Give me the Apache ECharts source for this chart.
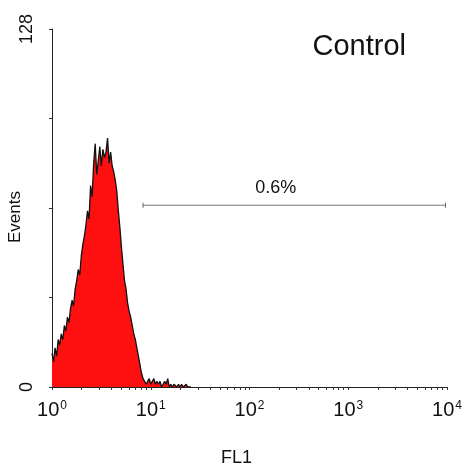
<!DOCTYPE html>
<html>
<head>
<meta charset="utf-8">
<script src="https://cdn.jsdelivr.net/npm/echarts@6/dist/echarts.min.js"></script>
<style>
html,body{margin:0;padding:0;background:#fff;}
#chart{width:469px;height:473px;}
</style>
</head>
<body>
<div id="chart"></div>
<script>
// Channel numbers (64 channels per decade, 256 channels = 4 decades)
var channels = [];
for (var c = 0; c <= 90; c++) channels.push(c);
// Events per channel
var events = [
  12, 9, 14, 11, 17, 15, 19, 17, 22, 20,
  25, 23, 28, 31, 29, 35, 38, 42, 40, 47,
  51, 54, 58, 63, 60, 72, 68, 80, 87, 76,
  81, 86, 79, 85, 82, 84, 89, 80, 84, 79,
  77, 74, 70, 63, 57, 50, 44, 38, 35, 30,
  27, 25, 22, 19, 17, 14, 11, 8, 5, 3,
  2, 1, 2, 3, 1, 2, 3, 1, 2, 1,
  2, 0, 1, 2, 1, 3, 0, 1, 0, 1,
  1, 0, 1, 0, 1, 0, 0, 1, 0, 0,
  0
];
// Marker (gate) region: start/end channel and level
var gateChannels = [59, 255];
var gateLevel = 65;
var gateLabel = '0.6%';
var gateLabelPos = [145, 71];
var xMajorTicks = [0, 64, 128, 192, 256];
var xTickExponents = ['0', '1', '2', '3', '4'];
var yLabels = [0, 128];
var titleText = 'Control';

var histData = channels.map(function (ch, i) { return [ch, events[i]]; });

// minor tick positions of a log axis (2..9 in each decade), in channel units
var minorTicks = [];
for (var d = 0; d < 4; d++) {
  for (var k = 1; k <= 9; k++) minorTicks.push(64 * d + 64 * Math.log10(k));
}
minorTicks.push(256);

var chart = echarts.init(document.getElementById('chart'));
var FONT = 'Liberation Sans';
chart.setOption({
  animation: false,
  backgroundColor: '#ffffff',
  textStyle: { fontFamily: FONT },
  title: {
    text: titleText,
    right: 58, top: 27,
    textStyle: { fontFamily: FONT, fontSize: 29, fontWeight: 'normal', color: '#111' }
  },
  grid: { left: 52, right: 22, top: 29, bottom: 86, containLabel: false, outerBoundsMode: 'none' },
  xAxis: {
    type: 'value', min: 0, max: 256,
    name: 'FL1', nameLocation: 'middle', nameGap: 62, nameMoveOverlap: false,
    nameTextStyle: { fontFamily: FONT, fontSize: 18, color: '#111', padding: [0, 26, 0, 0] },
    axisLine: { lineStyle: { color: '#222', width: 1 } },
    axisTick: { show: true, length: 3, customValues: minorTicks, lineStyle: { color: '#333' } },
    axisLabel: {
      customValues: xMajorTicks,
      margin: 13,
      formatter: function (v) {
        var i = xMajorTicks.indexOf(v);
        return '{b|10}{s|' + xTickExponents[i] + '}';
      },
      rich: {
        b: { fontFamily: FONT, fontSize: 20, color: '#111' },
        s: { fontFamily: FONT, fontSize: 12, color: '#111', verticalAlign: 'top', padding: [0, 0, 9, 1] }
      }
    },
    splitLine: { show: false }
  },
  yAxis: {
    type: 'value', min: 0, max: 128, interval: 32,
    name: 'Events', nameLocation: 'middle', nameGap: 28, nameMoveOverlap: false,
    nameTextStyle: { fontFamily: FONT, fontSize: 17, color: '#111', padding: [0, 18, 0, 0] },
    axisLine: { show: true, lineStyle: { color: '#222', width: 1 } },
    axisTick: { show: true, length: 3, lineStyle: { color: '#333' } },
    axisLabel: {
      customValues: yLabels,
      rotate: 90, margin: 16,
      fontFamily: FONT, fontSize: 18, color: '#111'
    },
    splitLine: { show: false }
  },
  series: [
    {
      type: 'line',
      data: histData,
      showSymbol: false,
      symbol: 'none',
      sampling: null,
      lineStyle: { color: '#111', width: 1.3 },
      areaStyle: { color: '#ff1010', opacity: 1 },
      z: 2
    },
    {
      type: 'line',
      data: [[gateChannels[0], gateLevel], [gateChannels[1], gateLevel]],
      symbol: 'rect', symbolSize: [1, 5], showSymbol: true,
      itemStyle: { color: '#666' },
      lineStyle: { color: '#777', width: 1 },
      z: 3
    },
    {
      type: 'scatter',
      data: [gateLabelPos],
      symbolSize: 1,
      itemStyle: { opacity: 0 },
      label: {
        show: true, position: 'inside', formatter: gateLabel, opacity: 1,
        fontFamily: FONT, fontSize: 18, color: '#111', textBorderWidth: 0
      },
      z: 4
    }
  ]
});
</script>
</body>
</html>
